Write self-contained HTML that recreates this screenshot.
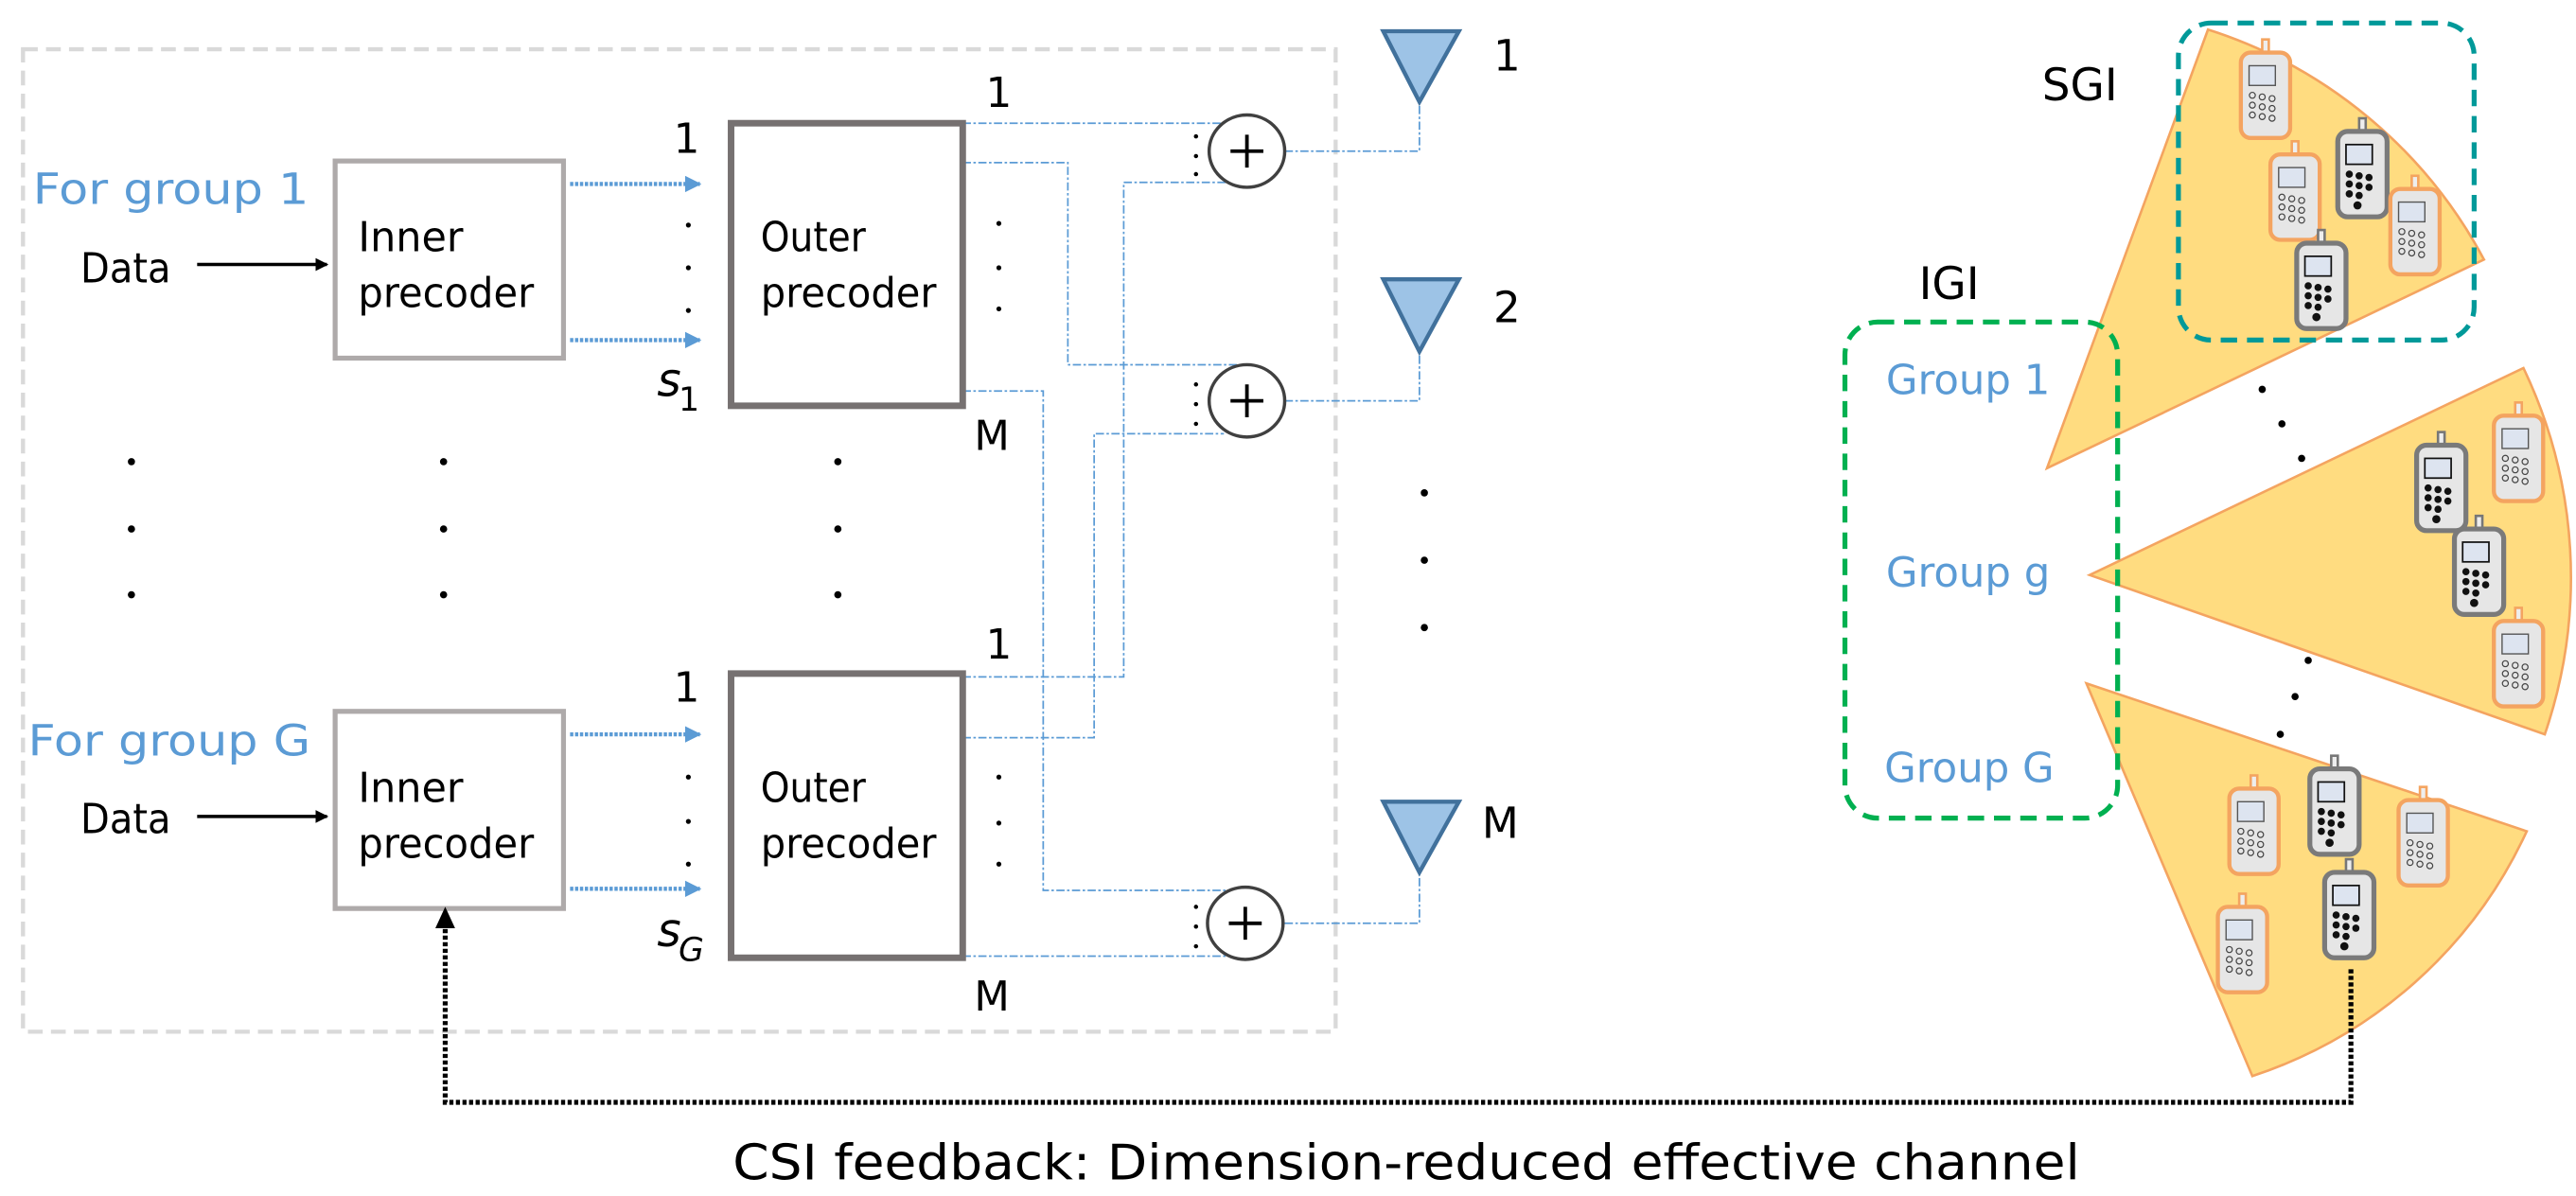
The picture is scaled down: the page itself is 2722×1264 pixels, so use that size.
<!DOCTYPE html>
<html><head><meta charset="utf-8"><style>
html,body{margin:0;padding:0;background:#fff;}
svg{display:block;}
text{font-family:"DejaVu Sans","Liberation Sans",sans-serif;}
</style></head><body>
<svg width="2722" height="1264" viewBox="0 0 1568 728" preserveAspectRatio="none" xmlns="http://www.w3.org/2000/svg">
<defs>
<marker id="ab" markerWidth="8" markerHeight="8" refX="7" refY="4" orient="auto" markerUnits="userSpaceOnUse"><path d="M0,0 L8,4 L0,8 z" fill="#000"/></marker>
<marker id="abl" markerWidth="10" markerHeight="10" refX="9" refY="5" orient="auto" markerUnits="userSpaceOnUse"><path d="M0,0 L10,5 L0,10 z" fill="#5b9bd5"/></marker>
<g id="pw">
 <rect x="-2" y="-34" width="4" height="12" fill="#eee" stroke="#f4a460" stroke-width="1.5"/>
 <rect x="-15" y="-26" width="30" height="52" rx="6" fill="#e6e6e6" stroke="#f4a460" stroke-width="2.5"/>
 <rect x="-10" y="-18" width="16" height="12" fill="#dde4f0" stroke="#555" stroke-width="0.8"/>
 <g fill="none" stroke="#444" stroke-width="0.7"><circle cx="-8" cy="0" r="1.8"/><circle cx="-2" cy="1" r="1.8"/><circle cx="4" cy="2" r="1.8"/><circle cx="-8" cy="6" r="1.8"/><circle cx="-2" cy="7" r="1.8"/><circle cx="4" cy="8" r="1.8"/><circle cx="-8" cy="12" r="1.8"/><circle cx="-2" cy="13" r="1.8"/><circle cx="4" cy="14" r="1.8"/></g>
</g>
<g id="pd">
 <rect x="-2" y="-34" width="4" height="12" fill="#eee" stroke="#777" stroke-width="1.5"/>
 <rect x="-15" y="-26" width="30" height="52" rx="6" fill="#e6e6e6" stroke="#7a7a7a" stroke-width="3"/>
 <rect x="-10" y="-18" width="16" height="12" fill="#dde4f0" stroke="#111" stroke-width="1"/>
 <g fill="#111"><circle cx="-8" cy="0" r="2.2"/><circle cx="-2" cy="1" r="2.2"/><circle cx="4" cy="2" r="2.2"/><circle cx="-8" cy="6" r="2.2"/><circle cx="-2" cy="7" r="2.2"/><circle cx="4" cy="8" r="2.2"/><circle cx="-8" cy="12" r="2.2"/><circle cx="-2" cy="13" r="2.2"/><circle cx="-3" cy="19" r="2.5"/></g>
</g>
</defs>

<rect x="14" y="30" width="799" height="598" fill="none" stroke="#d9d9d9" stroke-width="2.5" stroke-dasharray="9,5"/>

<g fill="none" stroke="#5b9bd5" stroke-width="1" stroke-dasharray="5,1.5,1.5,1.5">
 <polyline points="586,75 745,75"/>
 <polyline points="586,99 650,99 650,222 758,222"/>
 <polyline points="586,238 635,238 635,542 757,542"/>
 <polyline points="586,412 684,412 684,111 746,111"/>
 <polyline points="586,449 666,449 666,264 745,264"/>
 <polyline points="586,582 747,582"/>
 <polyline points="782,92 864,92 864,62"/>
 <polyline points="782,244 864,244 864,214"/>
 <polyline points="782,562 864,562 864,531"/>
</g>

<g fill="#fff" stroke="#404040" stroke-width="2">
 <ellipse cx="759" cy="92" rx="23" ry="22"/>
 <ellipse cx="759" cy="244" rx="23" ry="22"/>
 <ellipse cx="758" cy="562" rx="23" ry="22"/>
</g>
<g stroke="#000" stroke-width="2.2">
 <path d="M749,92h20M759,82v20"/><path d="M749,244h20M759,234v20"/><path d="M748,562h20M758,552v20"/>
</g>
<g fill="#000">
 <circle cx="728" cy="83" r="1.3"/><circle cx="728" cy="95" r="1.3"/><circle cx="728" cy="106" r="1.3"/>
 <circle cx="728" cy="234" r="1.3"/><circle cx="728" cy="246" r="1.3"/><circle cx="728" cy="258" r="1.3"/>
 <circle cx="728" cy="552" r="1.3"/><circle cx="728" cy="564" r="1.3"/><circle cx="728" cy="576" r="1.3"/>
</g>

<g fill="#9dc3e6" stroke="#41719c" stroke-width="2.5" stroke-linejoin="miter">
 <path d="M842,19 L888,19 L864,62 z"/>
 <path d="M842,170 L888,170 L864,214 z"/>
 <path d="M842,488 L888,488 L864,531 z"/>
</g>
<g font-size="26" fill="#000">
 <text x="909" y="43">1</text><text x="909" y="196">2</text><text x="902" y="510">M</text>
</g>

<g fill="#fff" stroke="#aeaaaa" stroke-width="3">
 <rect x="204" y="98" width="139" height="120"/>
 <rect x="204" y="433" width="139" height="120"/>
</g>
<g font-size="25" fill="#000">
 <text x="218" y="153" textLength="64" lengthAdjust="spacingAndGlyphs">Inner</text><text x="218" y="187" textLength="107" lengthAdjust="spacingAndGlyphs">precoder</text>
 <text x="218" y="488" textLength="64" lengthAdjust="spacingAndGlyphs">Inner</text><text x="218" y="522" textLength="107" lengthAdjust="spacingAndGlyphs">precoder</text>
</g>
<g fill="#fff" stroke="#767171" stroke-width="4">
 <rect x="445" y="75" width="141" height="172"/>
 <rect x="445" y="410" width="141" height="173"/>
</g>
<g font-size="25" fill="#000">
 <text x="463" y="153" textLength="64" lengthAdjust="spacingAndGlyphs">Outer</text><text x="463" y="187" textLength="107" lengthAdjust="spacingAndGlyphs">precoder</text>
 <text x="463" y="488" textLength="64" lengthAdjust="spacingAndGlyphs">Outer</text><text x="463" y="522" textLength="107" lengthAdjust="spacingAndGlyphs">precoder</text>
</g>

<g font-size="26" fill="#5b9bd5">
 <text x="20" y="124" textLength="168" lengthAdjust="spacingAndGlyphs">For group 1</text>
 <text x="17" y="460" textLength="172" lengthAdjust="spacingAndGlyphs">For group G</text>
</g>
<g font-size="25" fill="#000">
 <text x="49" y="172" textLength="55" lengthAdjust="spacingAndGlyphs">Data</text><text x="49" y="507" textLength="55" lengthAdjust="spacingAndGlyphs">Data</text>
</g>
<g stroke="#000" stroke-width="2">
 <line x1="120" y1="161" x2="199" y2="161" marker-end="url(#ab)"/>
 <line x1="120" y1="497" x2="199" y2="497" marker-end="url(#ab)"/>
</g>
<g stroke="#5b9bd5" stroke-width="2.5" stroke-dasharray="2,1">
 <line x1="347" y1="112" x2="426" y2="112" marker-end="url(#abl)"/>
 <line x1="347" y1="207" x2="426" y2="207" marker-end="url(#abl)"/>
 <line x1="347" y1="447" x2="426" y2="447" marker-end="url(#abl)"/>
 <line x1="347" y1="541" x2="426" y2="541" marker-end="url(#abl)"/>
</g>

<g font-size="25" fill="#000">
 <text x="410" y="93">1</text><text x="410" y="427">1</text>
 <text x="600" y="65">1</text><text x="600" y="401">1</text>
 <text x="593" y="274">M</text><text x="593" y="615">M</text>
</g>
<g font-family="Liberation Serif,serif" font-style="italic" fill="#000">
 <text x="400" y="241" font-size="28">s</text><text x="413" y="250" font-size="20" font-style="normal">1</text>
 <text x="400" y="576" font-size="28">s</text><text x="413" y="585" font-size="20">G</text>
</g>
<g fill="#000">
 <circle cx="419" cy="137" r="1.5"/><circle cx="419" cy="163" r="1.5"/><circle cx="419" cy="189" r="1.5"/>
 <circle cx="419" cy="473" r="1.5"/><circle cx="419" cy="500" r="1.5"/><circle cx="419" cy="526" r="1.5"/>
 <circle cx="608" cy="136" r="1.5"/><circle cx="608" cy="163" r="1.5"/><circle cx="608" cy="188" r="1.5"/>
 <circle cx="608" cy="473" r="1.5"/><circle cx="608" cy="501" r="1.5"/><circle cx="608" cy="526" r="1.5"/>
 <circle cx="80" cy="281" r="2.2"/><circle cx="80" cy="322" r="2.2"/><circle cx="80" cy="362" r="2.2"/>
 <circle cx="270" cy="281" r="2.2"/><circle cx="270" cy="322" r="2.2"/><circle cx="270" cy="362" r="2.2"/>
 <circle cx="510" cy="281" r="2.2"/><circle cx="510" cy="322" r="2.2"/><circle cx="510" cy="362" r="2.2"/>
 <circle cx="867" cy="300" r="2.2"/><circle cx="867" cy="341" r="2.2"/><circle cx="867" cy="382" r="2.2"/>
</g>

<g fill="#ffdc80" stroke="#f4a460" stroke-width="1.5">
 <path d="M1246,285 L1344,18 A290,290 0 0 1 1512,158 z"/>
 <path d="M1272,350 L1536,224 A295,295 0 0 1 1549,447 z"/>
 <path d="M1270,416 L1538,506 A280,280 0 0 1 1371,655 z"/>
</g>
<g fill="#000">
 <circle cx="1377" cy="237" r="2.2"/><circle cx="1389" cy="258" r="2.2"/><circle cx="1401" cy="279" r="2.2"/>
 <circle cx="1405" cy="402" r="2.2"/><circle cx="1397" cy="424" r="2.2"/><circle cx="1388" cy="447" r="2.2"/>
</g>
<use href="#pw" x="1379" y="58"/>
<use href="#pd" x="1438" y="106"/>
<use href="#pw" x="1397" y="120"/>
<use href="#pw" x="1470" y="141"/>
<use href="#pd" x="1413" y="174"/>
<use href="#pw" x="1533" y="279"/>
<use href="#pd" x="1486" y="297"/>
<use href="#pd" x="1509" y="348"/>
<use href="#pw" x="1533" y="404"/>
<use href="#pw" x="1372" y="506"/>
<use href="#pd" x="1421" y="494"/>
<use href="#pw" x="1475" y="513"/>
<use href="#pw" x="1365" y="578"/>
<use href="#pd" x="1430" y="557"/>

<rect x="1326" y="14" width="180" height="193" rx="20" fill="none" stroke="#009999" stroke-width="3" stroke-dasharray="10,6"/>
<rect x="1123" y="196" width="166" height="302" rx="20" fill="none" stroke="#00b050" stroke-width="3" stroke-dasharray="10,6"/>
<g font-size="27" fill="#000">
 <text x="1243" y="61">SGI</text><text x="1168" y="182">IGI</text>
</g>
<g font-size="25" fill="#5b9bd5">
 <text x="1148" y="240">Group 1</text><text x="1148" y="357">Group g</text><text x="1147" y="476">Group G</text>
</g>

<polyline points="1431,590 1431,671 271,671 271,565" fill="none" stroke="#000" stroke-width="3" stroke-dasharray="2.5,1.5"/>
<path d="M265,565 L271,552 L277,565 z" fill="#000"/>
<text x="446" y="718" font-size="30" fill="#000" textLength="820" lengthAdjust="spacingAndGlyphs">CSI feedback: Dimension-reduced effective channel</text>
</svg>
</body></html>
